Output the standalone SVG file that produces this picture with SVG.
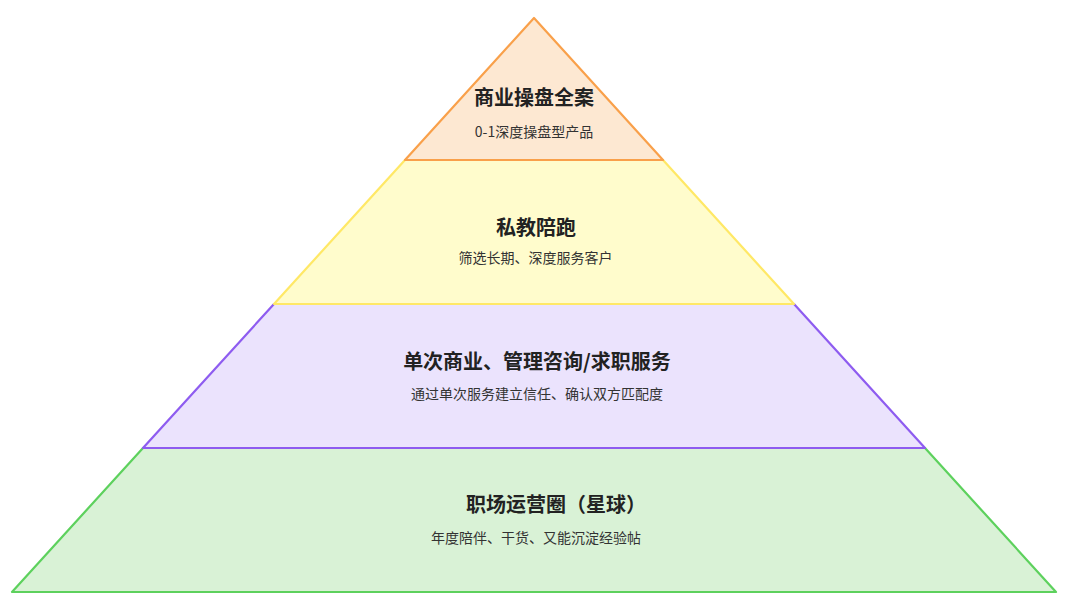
<svg xmlns="http://www.w3.org/2000/svg" width="1080" height="606" viewBox="0 0 1080 606">
<style>
.layer{stroke-width:2.2;stroke-linejoin:round}
.t{font-family:"Noto Sans CJK SC","Noto Sans",sans-serif;font-size:20px;font-weight:bold;fill:#222;text-anchor:middle}
.s{font-family:"Noto Sans CJK SC","Noto Sans",sans-serif;font-size:14px;fill:#333;text-anchor:middle}
</style>
<rect width="1080" height="606" fill="#ffffff"/>
<g id="layer4">
<polygon class="layer" points="143,448 925,448 1056,592 12,592" fill="#d9f2d6" stroke="#5dd15d"/>
<text class="t" x="556" y="512">职场运营圈（星球）</text>
<text class="s" x="536" y="543">年度陪伴、干货、又能沉淀经验帖</text>
</g>
<g id="layer3">
<polygon class="layer" points="274,304 794,304 925,448 143,448" fill="#ebe3fd" stroke="#8e5cf0"/>
<text class="t" x="537" y="368.5">单次商业、管理咨询/求职服务</text>
<text class="s" x="537" y="399">通过单次服务建立信任、确认双方匹配度</text>
</g>
<g id="layer2">
<polygon class="layer" points="405,160 663,160 794,304 274,304" fill="#fffccc" stroke="#ffe866"/>
<text class="t" x="536" y="235">私教陪跑</text>
<text class="s" x="535.5" y="263">筛选长期、深度服务客户</text>
</g>
<g id="layer1">
<polygon class="layer" points="534,18 663,160 405,160" fill="#fde8d2" stroke="#f9a04a"/>
<text class="t" x="534" y="105">商业操盘全案</text>
<text class="s" x="534" y="137">0-1深度操盘型产品</text>
</g>
<g id="connectors"></g>
</svg>
